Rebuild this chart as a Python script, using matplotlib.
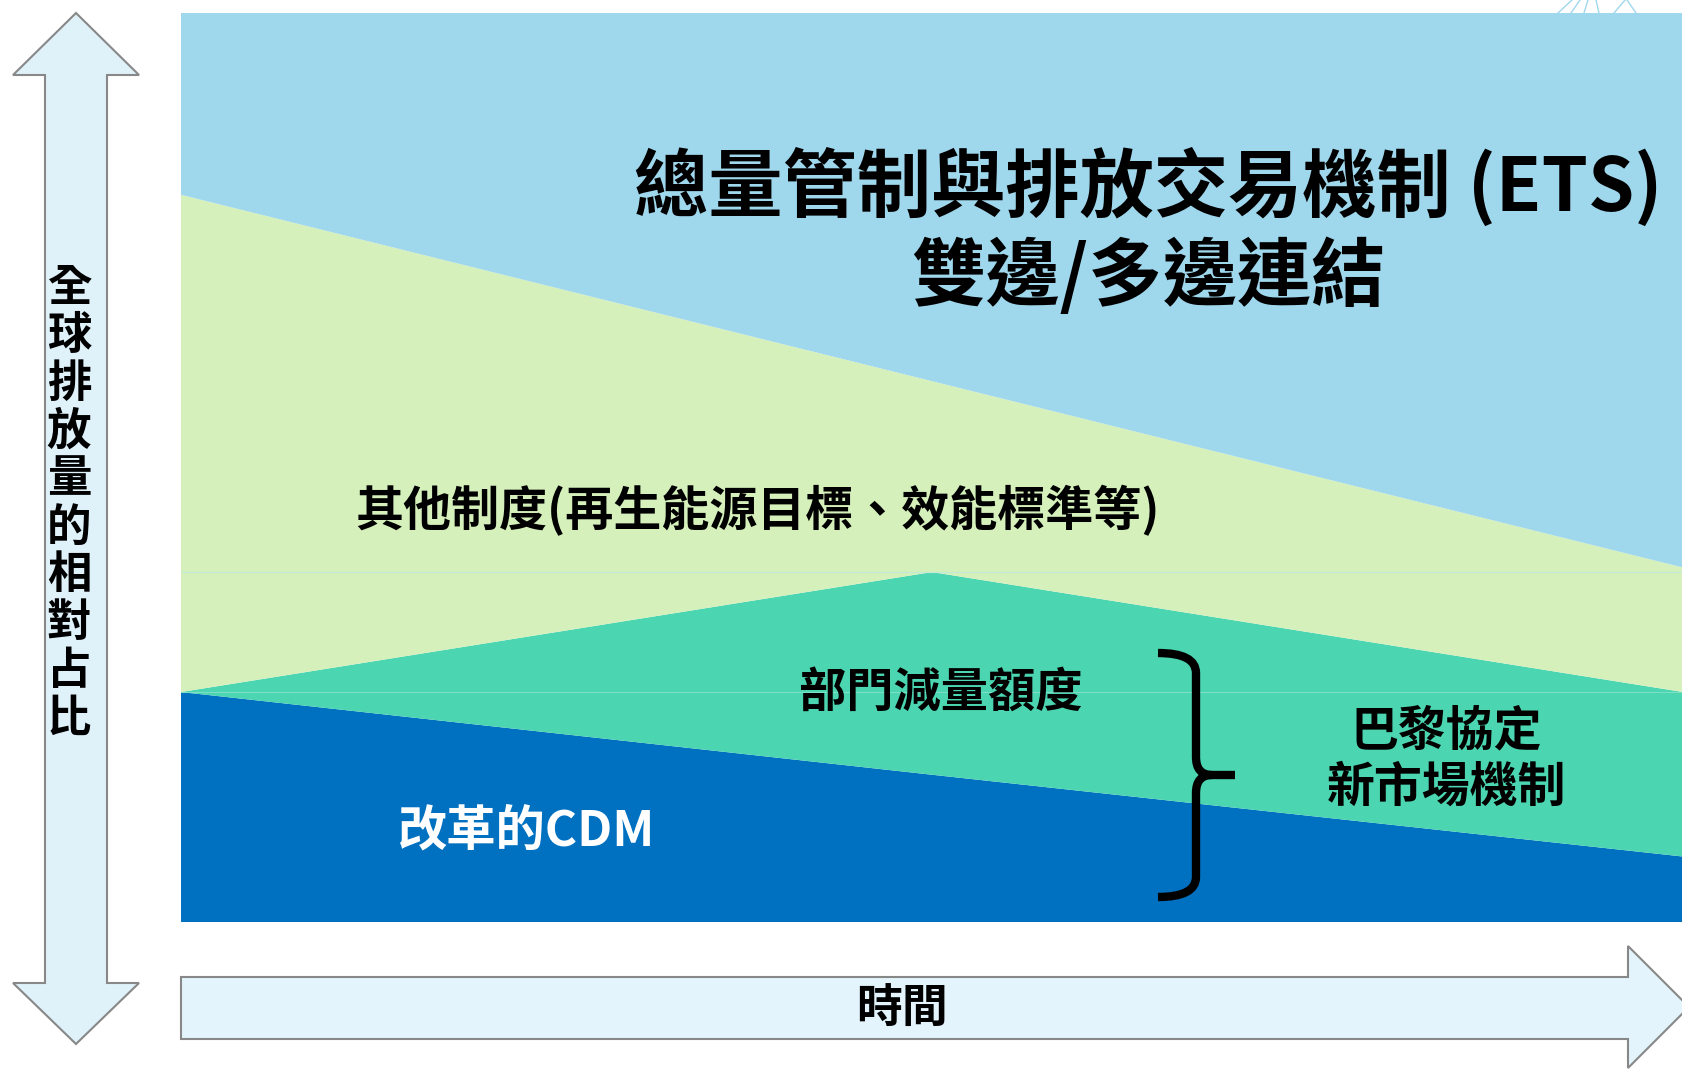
import matplotlib.pyplot as plt
from matplotlib.patches import Polygon, PathPatch
from matplotlib.path import Path

plt.rcParams['font.family'] = ['Noto Sans CJK TC', 'DejaVu Sans']

# time steps (start, middle, end) and each mechanism's share of global emissions (%)
time_points = [0.0, 0.5, 1.0]
cdm_share = [25.3, 16.2, 7.2]
sector_share = [0.0, 22.3, 18.1]
other_share = [54.7, 21.0, 13.7]
ets_share = [20.0, 40.5, 61.0]

layer_colors = ['#0070C0', '#4BD5B1', '#D5F0BB', '#9FD7ED']

W, H = 1683, 1069
fig = plt.figure(figsize=(W / 100, H / 100), dpi=100)

# stacked areas
ax = fig.add_axes([181 / W, (H - 922) / H, (W - 181) / W, 909 / H])
ax.stackplot(time_points, cdm_share, sector_share, other_share, ets_share,
             colors=layer_colors, linewidth=0)
# thin seams where the flat shapes meet
ax.axhline(cdm_share[0] + sector_share[0], color='#7BE0C5', lw=0.8, zorder=2)
ax.axhline(cdm_share[1] + sector_share[1], color='#C4E9D6', lw=0.9, zorder=2)
ax.set_xlim(0, 1)
ax.set_ylim(0, 100)
ax.axis('off')

# overlay in pixel units for arrows and labels
ov = fig.add_axes([0, 0, 1, 1], zorder=5)
ov.set_xlim(0, W)
ov.set_ylim(H, 0)
ov.axis('off')
ov.patch.set_alpha(0)

vert_arrow = [(76, 13), (139, 75), (107, 75), (107, 983), (139, 983), (76, 1044),
              (13, 983), (45, 983), (45, 75), (13, 75)]
ov.add_patch(Polygon(vert_arrow, closed=True, facecolor='#DFF1F9',
                     edgecolor='#888888', lw=1.5))

time_arrow = [(181, 977), (1628, 977), (1628, 946), (1689, 1007), (1628, 1068),
              (1628, 1039), (181, 1039)]
ov.add_patch(Polygon(time_arrow, closed=True, facecolor='#E3F4FC',
                     edgecolor='#888888', lw=1.5, clip_on=False))

# faint strokes peeking above the top edge
for x0, x1 in [(1558, 1572), (1571, 1580), (1584, 1588), (1599, 1596),
               (1614, 1625), (1636, 1627)]:
    ov.plot([x0, x1], [13, 0], color='#9FD7ED', lw=1)

# curly brace around the Paris Agreement mechanisms
verts = [(1158, 653), (1196, 653), (1196, 673),
         (1196, 757),
         (1196, 775), (1212, 775),
         (1235, 775),
         (1212, 775),
         (1196, 775), (1196, 793),
         (1196, 877),
         (1196, 897), (1158, 897)]
codes = [Path.MOVETO, Path.CURVE3, Path.CURVE3,
         Path.LINETO,
         Path.CURVE3, Path.CURVE3,
         Path.LINETO,
         Path.MOVETO,
         Path.CURVE3, Path.CURVE3,
         Path.LINETO,
         Path.CURVE3, Path.CURVE3]
ov.add_patch(PathPatch(Path(verts, codes), facecolor='none', edgecolor='black',
                       lw=6, capstyle='butt', joinstyle='round'))

ov.text(1148, 187, '總量管制與排放交易機制 (ETS)', fontsize=53.5, fontweight='bold',
        ha='center', va='center')
ov.text(1148, 277, '雙邊/多邊連結', fontsize=53.5, fontweight='bold',
        ha='center', va='center')
ov.text(757, 511, '其他制度(再生能源目標、效能標準等)', fontsize=34.6, fontweight='bold',
        ha='center', va='center')
ov.text(941, 693, '部門減量額度', fontsize=34, fontweight='bold',
        ha='center', va='center')
ov.text(526, 831, '改革的CDM', fontsize=35.5, fontweight='bold', color='white',
        ha='center', va='center')
ov.text(1446, 731, '巴黎協定', fontsize=34.5, fontweight='bold',
        ha='center', va='center')
ov.text(1446, 787, '新市場機制', fontsize=34.5, fontweight='bold',
        ha='center', va='center')
ov.text(902, 1010, '時間', fontsize=33, fontweight='bold',
        ha='center', va='center')

y_label = '全球排放量的相對占比'
for i, ch in enumerate(y_label):
    ov.text(69, 288 + i * 47.9, ch, fontsize=32, fontweight='bold',
            ha='center', va='center')

fig.savefig('out.png', dpi=100)
